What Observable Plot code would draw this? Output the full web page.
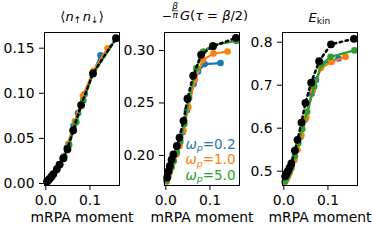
<!DOCTYPE html>
<html><head><meta charset="utf-8">
<script src="https://cdn.jsdelivr.net/npm/d3@7"></script>
<script src="https://cdn.jsdelivr.net/npm/@observablehq/plot@0.6"></script>
<style>
body{margin:0;background:#fff;}
#c{position:relative;width:372px;height:240px;overflow:hidden;font-family:"DejaVu Sans";}
#c svg{position:absolute;top:0;}
</style></head><body><div id="c"></div>
<script>
// ---- data ----
const omegaP = ["0.2", "1.0", "5.0"];
const colors = ["#1f77b4", "#ff7f0e", "#2ca02c"];
const xTicks = [0, 0.1];
const dTicks = [0, 0.05, 0.10, 0.15];
const gTicks = [0.20, 0.25, 0.30];
const eTicks = [0.5, 0.6, 0.7, 0.8];

// exact (black)
const xExact = [0.003, 0.006, 0.009, 0.013, 0.017, 0.025, 0.031, 0.040, 0.049, 0.062, 0.080, 0.107, 0.159];
const dExact = [0.0025, 0.004, 0.0055, 0.0078, 0.0105, 0.016, 0.021, 0.028, 0.038, 0.059, 0.087, 0.122, 0.161];
const gExact = [0.179, 0.185, 0.190, 0.196, 0.201, 0.209, 0.217, 0.233, 0.254, 0.276, 0.296, 0.304, 0.312];
const eExact = [0.488, 0.494, 0.500, 0.508, 0.518, 0.548, 0.573, 0.613, 0.659, 0.706, 0.756, 0.795, 0.808];

// omega_p = 0.2
const xW02 = [0.002, 0.005, 0.008, 0.012, 0.016, 0.023, 0.030, 0.038, 0.048, 0.063, 0.073, 0.088, 0.124];
const dW02 = [0.002, 0.0035, 0.005, 0.0072, 0.0095, 0.0145, 0.020, 0.028, 0.040, 0.064, 0.078, 0.099, 0.142];
const gW02 = [0.176, 0.180, 0.184, 0.189, 0.194, 0.201, 0.209, 0.222, 0.243, 0.268, 0.280, 0.287, 0.288];
const eW02 = [0.476, 0.481, 0.488, 0.497, 0.507, 0.526, 0.550, 0.580, 0.620, 0.680, 0.712, 0.750, 0.762];

// omega_p = 1.0
const xW10 = [0.002, 0.005, 0.008, 0.012, 0.017, 0.024, 0.031, 0.040, 0.051, 0.066, 0.084, 0.108, 0.140];
const dW10 = [0.002, 0.0035, 0.005, 0.0073, 0.0105, 0.0155, 0.021, 0.030, 0.044, 0.069, 0.097, 0.125, 0.150];
const gW10 = [0.175, 0.179, 0.183, 0.188, 0.194, 0.201, 0.209, 0.224, 0.246, 0.272, 0.291, 0.297, 0.299];
const eW10 = [0.474, 0.479, 0.486, 0.494, 0.506, 0.526, 0.550, 0.584, 0.625, 0.688, 0.740, 0.754, 0.766];

// omega_p = 5.0
const xW50 = [0.002, 0.005, 0.009, 0.013, 0.018, 0.025, 0.033, 0.042, 0.053, 0.069, 0.085, 0.106, 0.160];
const dW50 = [0.001, 0.003, 0.005, 0.0075, 0.0105, 0.015, 0.021, 0.030, 0.043, 0.068, 0.092, 0.121, 0.161];
const gW50 = [0.176, 0.180, 0.185, 0.189, 0.195, 0.203, 0.213, 0.230, 0.255, 0.283, 0.299, 0.305, 0.309];
const eW50 = [0.476, 0.482, 0.490, 0.499, 0.512, 0.535, 0.565, 0.598, 0.638, 0.697, 0.748, 0.766, 0.781];

const xLabel = "mRPA moment";

// ---- build ----
const seriesX = [xW02, xW10, xW50];
const toRows = (xs, ys) => xs.map((x, i) => ({x, y: ys[i]}));
const xDomain = [-0.003, 0.167];

const panels = [
  {left: 0, width: 120, ml: 44, yDomain: [-0.0022, 0.1674], yTicks: dTicks, yFmt: ".2f", ys: [dW02, dW10, dW50], yExact: dExact},
  {left: 120, width: 122, ml: 44, yDomain: [0.1714, 0.3171], yTicks: gTicks, yFmt: ".2f", ys: [gW02, gW10, gW50], yExact: gExact},
  {left: 242, width: 130, ml: 40, yDomain: [0.4667, 0.8226], yTicks: eTicks, yFmt: ".1f", ys: [eW02, eW10, eW50], yExact: eExact}
];

const c = document.getElementById("c");
for (const p of panels) {
  const marks = [
    Plot.axisX({ticks: xTicks, tickFormat: ".1f", tickSize: 5, tickPadding: 5, label: null}),
    Plot.axisY({ticks: p.yTicks, tickFormat: p.yFmt, tickSize: 5, tickPadding: 5, label: null})
  ];
  seriesX.forEach((xs, i) => {
    const r = toRows(xs, p.ys[i]);
    marks.push(Plot.line(r, {x: "x", y: "y", stroke: colors[i], strokeWidth: 2.2}));
    marks.push(Plot.dot(r, {x: "x", y: "y", fill: colors[i], r: 3.3}));
  });
  const rb = toRows(xExact, p.yExact);
  marks.push(Plot.line(rb, {x: "x", y: "y", stroke: "black", strokeWidth: 2.5, strokeDasharray: "2.5,3.5"}));
  marks.push(Plot.dot(rb, {x: "x", y: "y", fill: "black", r: 3.9}));
  marks.push(Plot.text([xLabel], {text: d => d, frameAnchor: "bottom", lineAnchor: "middle", dy: 32, fontSize: 13.9, fill: "black"}));
  marks.push(Plot.frame({stroke: "black", strokeWidth: 1}));
  const svg = Plot.plot({
    width: p.width, height: 240,
    marginLeft: p.ml, marginRight: p.width - p.ml - 75, marginTop: 32, marginBottom: 55,
    x: {domain: xDomain}, y: {domain: p.yDomain},
    style: {fontFamily: "DejaVu Sans", fontSize: "13.9px", background: "transparent", overflow: "visible", color: "black"},
    marks
  });
  svg.style.position = "absolute";
  svg.style.left = p.left + "px";
  svg.style.top = "0px";
  c.appendChild(svg);
}

// ---- titles and legend (overlay) ----
const NS = "http://www.w3.org/2000/svg";
const ov = document.createElementNS(NS, "svg");
ov.setAttribute("width", 372); ov.setAttribute("height", 240);
ov.style.position = "absolute"; ov.style.left = "0px"; ov.style.top = "0px";
ov.setAttribute("font-family", "DejaVu Sans");
let legend = "";
omegaP.forEach((w, i) => {
  const y = 148.5 + i * 15.5;
  legend += `<text x="235.5" y="${y}" text-anchor="end" font-size="13.5" fill="${colors[i]}"><tspan font-style="italic">ω</tspan><tspan font-size="9.5" font-style="italic" dy="2.6">p</tspan><tspan dy="-2.6">=${w}</tspan></text>`;
});
ov.innerHTML = `
<text x="82" y="21" text-anchor="middle" font-size="13">⟨<tspan font-style="italic">n</tspan><tspan font-size="9.1" dy="2.4">↑</tspan><tspan dy="-2.4" dx="1.5" font-style="italic">n</tspan><tspan font-size="9.1" dy="2.4">↓</tspan><tspan dy="-2.4">⟩</tspan></text>
<text x="161.8" y="19.5" font-size="12">−</text>
<text x="175.2" y="8.6" font-size="9" text-anchor="middle" font-style="italic">β</text>
<line x1="172.2" x2="178.2" y1="10.8" y2="10.8" stroke="black" stroke-width="0.7"/>
<text x="175.2" y="18.3" font-size="9" text-anchor="middle" font-style="italic">π</text>
<text x="180" y="19.5" font-size="13"><tspan font-style="italic">G</tspan>(<tspan font-style="italic">τ</tspan> = <tspan font-style="italic">β</tspan>/2)</text>
<text x="319.5" y="21.5" text-anchor="middle" font-size="13"><tspan font-style="italic">E</tspan><tspan font-size="9.1" dy="2.5">kin</tspan></text>
${legend}`;
c.appendChild(ov);
</script></body></html>
